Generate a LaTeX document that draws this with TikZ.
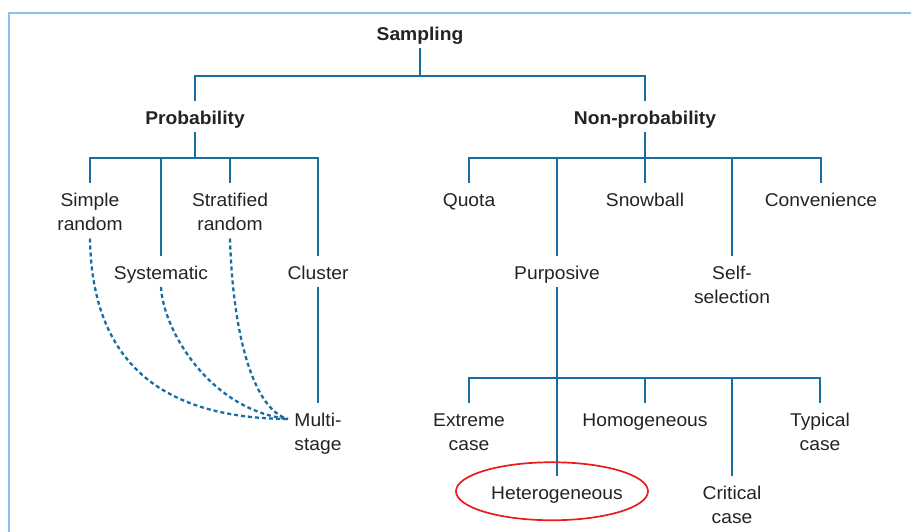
\documentclass[tikz,border=0pt]{standalone}
\usepackage{fontspec}
\setmainfont{Liberation Sans}[FakeStretch=1.04]
\definecolor{linkblue}{RGB}{22,110,162}
\definecolor{frameblue}{RGB}{140,192,235}
\definecolor{ink}{RGB}{35,35,35}
\definecolor{ringred}{RGB}{232,28,28}
\begin{document}
\begin{tikzpicture}[x=1pt,y=-1pt,
  link/.style={draw=linkblue, line width=2.8pt},
  dotlink/.style={draw=linkblue, line width=2.3pt, dash pattern=on 4pt off 3pt},
  lbl/.style={inner sep=0pt, outer ysep=7pt, anchor=base, text=ink,
    font=\fontsize{18.5}{24.5}\selectfont, text height=16.5pt, text depth=1pt},
  lbltwo/.style={lbl, align=center, text height=41pt},
  head/.style={lbl, font=\fontsize{18.5}{24.5}\selectfont\bfseries},
  ring/.style={draw=ringred, line width=1.7pt}]
\useasboundingbox (0,0) rectangle (911,531);
\clip (0,0) rectangle (911,531);
% outer frame
\draw[frameblue, line width=2.6pt] (9,13) rectangle (940,560);

% labels (two-line labels sit on the baseline of their last line)
\node[head] (samp) at (420,40) {Sampling};
\node[head] (prob) at (195,124) {Probability};
\node[head] (nonp) at (645,124) {Non-probability};

\node[lbltwo] (simple) at (90,230.5) {Simple\\random};
\node[lbl] (syst) at (161,279) {Systematic};
\node[lbltwo] (strat) at (230,230.5) {Stratified\\random};
\node[lbl] (clus) at (318,279) {Cluster};
\node[lbltwo] (multi) at (318,450.5) {Multi-\\stage};

\node[lbl] (quota) at (469,206) {Quota};
\node[lbl] (purp) at (557,279) {Purposive};
\node[lbl] (snow) at (645,206) {Snowball};
\node[lbltwo] (self) at (732,303.5) {Self-\\selection};
\node[lbl] (conv) at (821,206) {Convenience};

\node[lbltwo] (ext) at (469,450.5) {Extreme\\case};
\node[lbl] (hetero) at (557,499) {Heterogeneous};
\node[lbl] (homo) at (645,426) {Homogeneous};
\node[lbltwo] (crit) at (732,523.5) {Critical\\case};
\node[lbltwo] (typ) at (820,450.5) {Typical\\case};

% bar levels
\coordinate (b0) at (420,76);
\coordinate (b1) at (195,158);
\coordinate (b2) at (645,158);
\coordinate (b3) at (557,378);
\coordinate (mjoin) at (288,419);

% top level
\draw[link] (samp.south) -- (samp.south |- b0);
\draw[link] (prob.north) |- (nonp.north |- b0) -- (nonp.north);

% probability branch
\draw[link] (prob.south) -- (prob.south |- b1);
\draw[link] (simple.north) |- (clus.north |- b1) -- (clus.north);
\draw[link] (syst.north) -- (syst.north |- b1);
\draw[link] (strat.north) -- (strat.north |- b1);
\draw[link] (clus.south) -- (multi.north);

% combinations feeding multi-stage
\draw[dotlink] (simple.south) .. controls (92,370) and (170,418) .. (mjoin);
\draw[dotlink] (syst.south) .. controls (163,330) and (210,410) .. (mjoin);
\draw[dotlink] (strat.south) .. controls (233,340) and (255,410) .. (mjoin);

% non-probability branch
\draw[link] (nonp.south) -- (nonp.south |- b2);
\draw[link] (quota.north) |- (conv.north |- b2) -- (conv.north);
\draw[link] (purp.north) -- (purp.north |- b2);
\draw[link] (snow.north) -- (snow.north |- b2);
\draw[link] (self.north) -- (self.north |- b2);

% purposive branch
\draw[link] (purp.south) -- (purp.south |- b3);
\draw[link] (ext.north) |- (typ.north |- b3) -- (typ.north);
\draw[link] (hetero.north) -- (hetero.north |- b3);
\draw[link] (homo.north) -- (homo.north |- b3);
\draw[link] (crit.north) -- (crit.north |- b3);

% highlight
\draw[ring] ([xshift=-5pt]hetero.center) ellipse [x radius=96pt, y radius=29pt];
\end{tikzpicture}
\end{document}
